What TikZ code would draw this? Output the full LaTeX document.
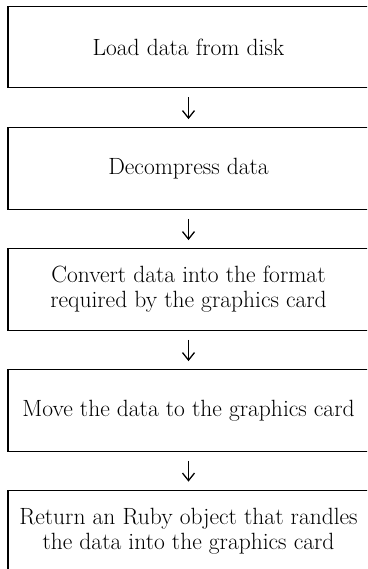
\documentclass[tikz,border=0pt]{standalone}
\usetikzlibrary{arrows.meta}
\begin{document}
\begin{tikzpicture}[x=1pt,y=-1pt,
  stepbox/.style={draw=black, line width=1.3pt, minimum width=361pt,
    minimum height=81.5pt, inner sep=0pt, align=center,
    font=\fontsize{23.5}{25}\selectfont},
  flow/.style={line width=1.3pt, shorten <=9pt, shorten >=8pt,
    -{Straight Barb[length=7.5pt,width=12pt,line width=1.3pt]}}]
  \useasboundingbox (0,0) rectangle (367,569);
  \clip (0,0) rectangle (367,569);
  \node[stepbox] (load)    at (188.5,47)    {Load data from disk};
  \node[stepbox] (decomp)  at (188.5,168.5) {Decompress data};
  \node[stepbox] (convert) at (188.5,289.5) {Convert data into the format\\required by the graphics card};
  \node[stepbox] (move)    at (188.5,410.5) {Move the data to the graphics card};
  \node[stepbox] (ret)     at (188.5,531)   {Return an Ruby object that randles\\the data into the graphics card};
  \draw[flow] (load)    -- (decomp);
  \draw[flow] (decomp)  -- (convert);
  \draw[flow] (convert) -- (move);
  \draw[flow] (move)    -- (ret);
\end{tikzpicture}
\end{document}
